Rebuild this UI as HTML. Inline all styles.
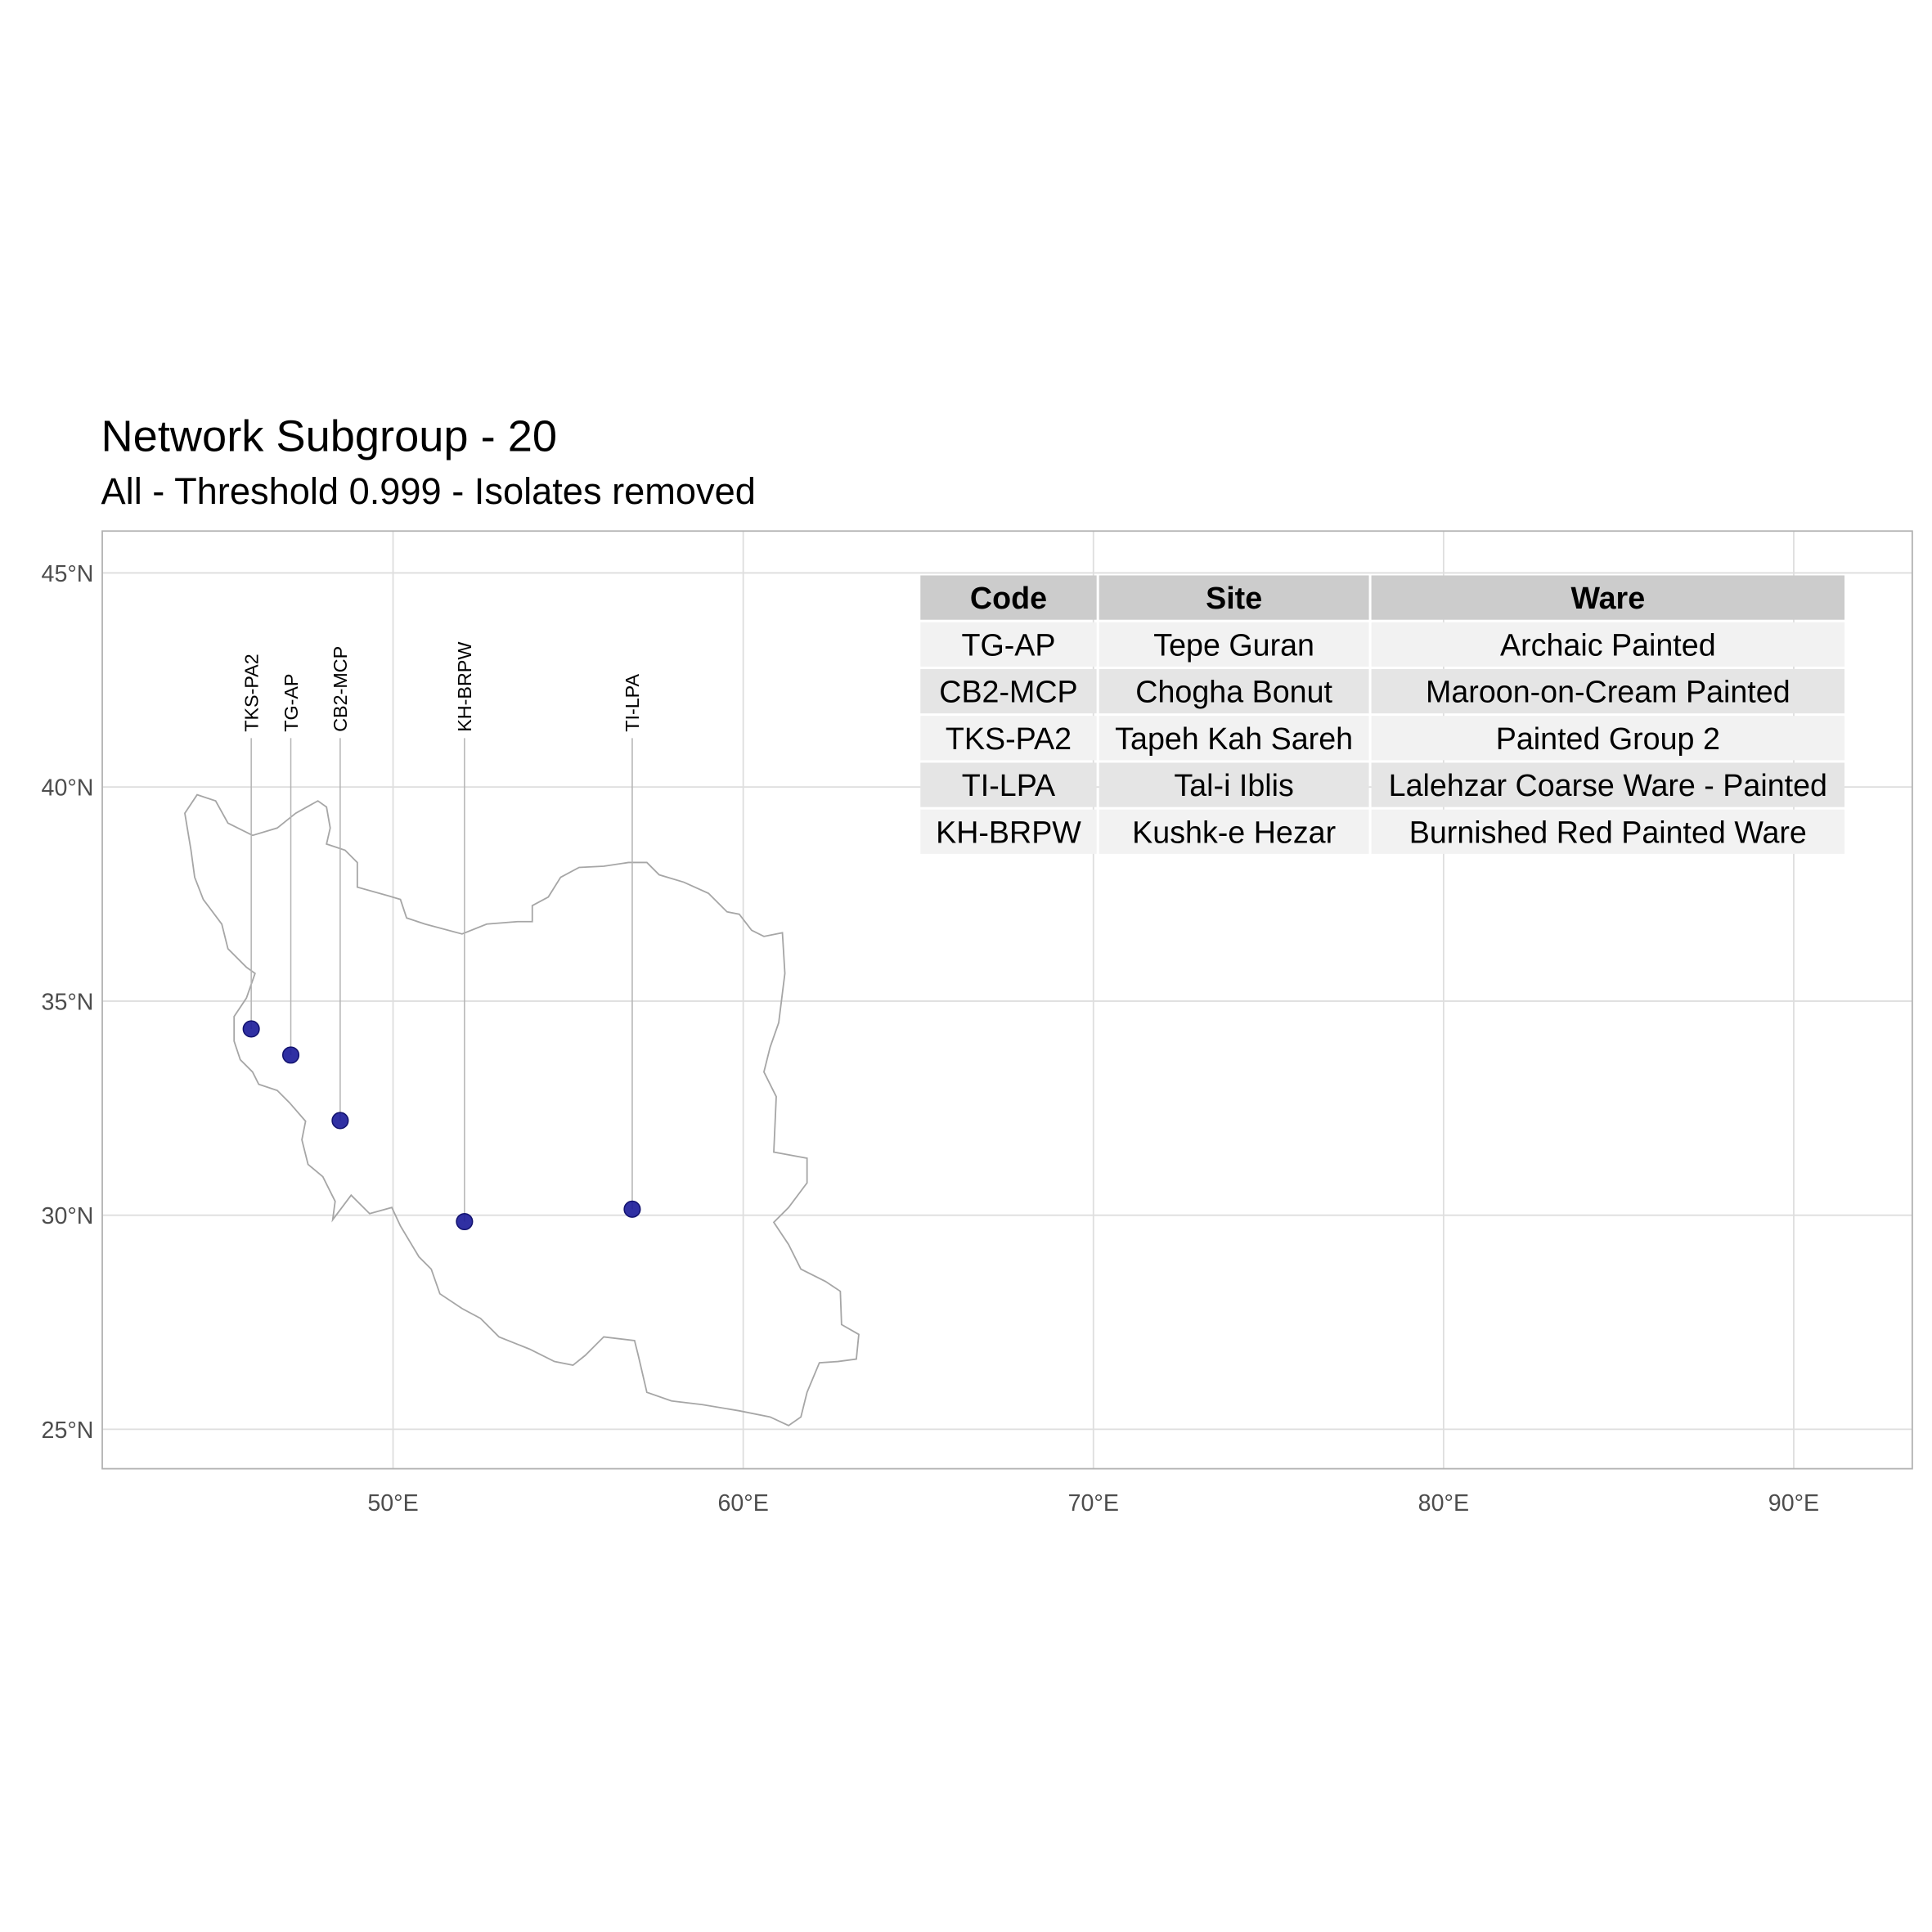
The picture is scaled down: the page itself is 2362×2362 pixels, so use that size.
<!DOCTYPE html>
<html><head><meta charset="utf-8">
<style>
html,body{margin:0;padding:0;background:#fff;}
svg{display:block;font-family:"Liberation Sans",Arial,sans-serif;}
</style></head>
<body>
<svg id="chart" width="2362" height="2362" viewBox="0 0 1568 1568" xmlns="http://www.w3.org/2000/svg">
<rect x="0" y="0" width="1568" height="1568" fill="#fff"/>
<text x="82" y="366" font-size="36" fill="#000">Network Subgroup - 20</text>
<text x="82" y="409" font-size="30" fill="#000">All - Threshold 0.999 - Isolates removed</text>
<g id="grid"></g>
<path fill="none" stroke="#a6a6a6" stroke-width="1.2" d="M150,660 L160,645 175,650 185,668 205,678 225,672 240,660 258,650 265,655 268,672 265,685 280,690 290,700 290,720 315,727 325,730 330,745 345,750 375,758 395,750 420,748 432,748 432,735 445,728 455,712 470,704 490,703 510,700 525,700 535,710 555,716 575,725 590,740 600,742 610,755 620,760 635,757 637,790 632,830 625,850 620,870 630,890 628,935 655,940 655,960 640,980 628,992 640,1010 650,1030 670,1040 682,1048 683,1075 697,1083 695,1103 680,1105 665,1106 655,1130 650,1150 640,1157 625,1150 600,1145 570,1140 545,1137 525,1130 518,1100 515,1088 490,1085 475,1100 465,1108 450,1105 430,1095 405,1085 390,1070 375,1062 357,1050 350,1030 340,1020 325,995 318,980 300,985 290,975 285,970 270,990 272,975 262,955 250,945 245,925 248,910 235,895 225,885 210,880 205,870 195,860 190,845 190,825 200,810 207,790 200,785 185,770 180,750 165,730 158,712 155,690 Z"/>
<g id="marks"></g>
<g id="table"></g>
<rect x="83" y="431" width="1469" height="761" fill="none" stroke="#b3b3b3" stroke-width="1.2"/>
<g id="axes"></g>
</svg>
<script>
const xTicks = [50, 60, 70, 80, 90];
const yTicks = [25, 30, 35, 40, 45];
const siteCodes = ["TKS-PA2", "TG-AP", "CB2-MCP", "KH-BRPW", "TI-LPA"];
const siteLon = [45.95, 47.08, 48.49, 52.04, 56.83];
const siteLat = [34.35, 33.74, 32.21, 29.85, 30.14];
const tableHeader = ["Code", "Site", "Ware"];
const tableCodes = ["TG-AP", "CB2-MCP", "TKS-PA2", "TI-LPA", "KH-BRPW"];
const tableSites = ["Tepe Guran", "Chogha Bonut", "Tapeh Kah Sareh", "Tal-i Iblis", "Kushk-e Hezar"];
const tableWares = ["Archaic Painted", "Maroon-on-Cream Painted", "Painted Group 2", "Lalehzar Coarse Ware - Painted", "Burnished Red Painted Ware"];

const NS = "http://www.w3.org/2000/svg";
const X = lon => 319 + (lon - 50) * 28.42;
const Y = lat => 465 + (45 - lat) * 34.75;
function mk(tag, attrs, parent, txt) {
  const e = document.createElementNS(NS, tag);
  for (const k in attrs) e.setAttribute(k, attrs[k]);
  if (txt !== undefined) e.textContent = txt;
  parent.appendChild(e);
  return e;
}
const grid = document.getElementById('grid');
const axes = document.getElementById('axes');
xTicks.forEach(t => {
  const l = mk('line', {x1: X(t), x2: X(t), y1: 431, y2: 1192, stroke: '#dedede', 'stroke-width': 1.2}, grid);
  
  
  const tx = mk('text', {x: X(t), y: 1226, 'font-size': 19, fill: '#4d4d4d', 'text-anchor': 'middle'}, axes, t + '°E');
  
  
});
yTicks.forEach(t => {
  const l = mk('line', {x1: 83, x2: 1552, y1: Y(t), y2: Y(t), stroke: '#dedede', 'stroke-width': 1.2}, grid);
  
  
  const tx = mk('text', {x: 76, y: Y(t) + 7, 'font-size': 19, fill: '#4d4d4d', 'text-anchor': 'end'}, axes, t + '°N');
  
  
});
const marks = document.getElementById('marks');
siteCodes.forEach((c, i) => {
  const x = X(siteLon[i]), y = Y(siteLat[i]);
  const l = mk('line', {x1: x, x2: x, y1: y, y2: 599, stroke: '#b3b3b3', 'stroke-width': 1}, marks);
  
  
  const p = mk('circle', {cx: x, cy: y, r: 6.5, fill: '#1a1a99', 'fill-opacity': 0.9, stroke: '#12126e', 'stroke-width': 1}, marks);
  
  
  const t = mk('text', {x: 0, y: 0, 'font-size': 15.5, fill: '#000', 'text-anchor': 'start', transform: `translate(${x + 5.5},594) rotate(-90)`}, marks, c);
  
  
});
const table = document.getElementById('table');
const cols = [[747, 143], [892, 219], [1113, 384]];
const rowH = 36, gap = 2, top0 = 467;
const rows = [tableHeader].concat(tableCodes.map((c, i) => [c, tableSites[i], tableWares[i]]));
rows.forEach((r, ri) => {
  const y = top0 + ri * (rowH + gap);
  const fill = ri === 0 ? '#cccccc' : (ri % 2 === 1 ? '#f2f2f2' : '#e5e5e5');
  r.forEach((v, ci) => {
    const rc = mk('rect', {x: cols[ci][0], y: y, width: cols[ci][1], height: rowH, fill: fill}, table);
    
    
    const t = mk('text', {x: cols[ci][0] + cols[ci][1] / 2, y: y + 27, 'font-size': 25, fill: '#000', 'text-anchor': 'middle', 'font-weight': ri === 0 ? 'bold' : 'normal'}, table, v);
    
    
  });
});
</script>
</body></html>
